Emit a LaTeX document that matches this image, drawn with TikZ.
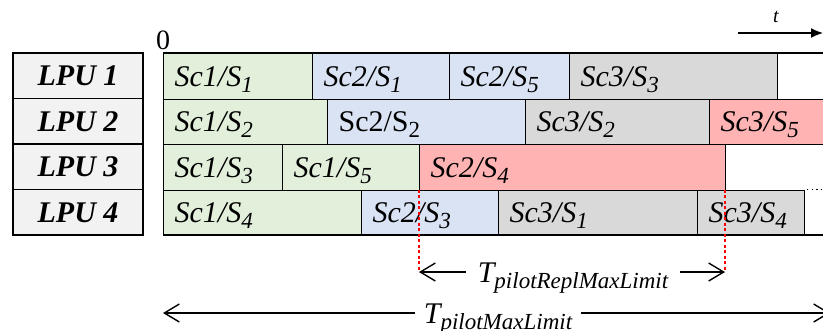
\documentclass[tikz,border=0pt]{standalone}
\usepackage{fontspec}
\setmainfont{Liberation Serif}
\usetikzlibrary{arrows.meta}
\definecolor{cgreen}{HTML}{E2EFDA}
\definecolor{cblue}{HTML}{DAE3F3}
\definecolor{cgrey}{HTML}{D9D9D9}
\definecolor{cpink}{HTML}{FFB3B3}
\definecolor{clpu}{HTML}{F2F2F2}
\newcommand\sbx[1]{\raisebox{-0.2em}{\fontsize{23}{23}\selectfont #1}}
\newcommand\jobnode[6]{%
  \pgfmathsetmacro\jw{#3-#2-22}%
  \node[jobbox, fill=#5, text width=\jw pt, anchor=north west] (#1) at (#2,#4) {#6};%
}
\tikzset{
  jobbox/.style={draw, line width=1.3pt, inner xsep=11pt, inner ysep=0pt,
    minimum height=45.5pt, text height=22pt, text depth=2pt, align=left,
    font=\fontsize{30}{30}\selectfont\itshape},
  lpu/.style={draw, line width=1.3pt, fill=clpu, minimum width=130pt, minimum height=45.5pt,
    inner sep=0pt, text height=22pt, text depth=2pt,
    font=\fontsize{30}{30}\selectfont\bfseries\itshape},
  dimarr/.style={line width=1.4pt, arrows={-Straight Barb[length=15pt,width=18pt,line width=1.4pt]}},
  reddot/.style={red, line width=2.6pt, dash pattern=on 3pt off 2.5pt},
  tlabel/.style={fill=white, inner ysep=2pt, font=\fontsize{30}{30}\selectfont\itshape},
}
\begin{document}
\begin{tikzpicture}[x=1pt,y=-1pt]
\useasboundingbox (0,0) rectangle (823,330);
% LPU labels
\node[lpu] (l1) at (78,75.75) {LPU 1};
\node[lpu] (l2) at (78,121.25) {LPU 2};
\node[lpu] (l3) at (78,166.75) {LPU 3};
\node[lpu] (l4) at (78,212.25) {LPU 4};
% row 1
\jobnode{a1}{163}{312}{53}{cgreen}{Sc1/S\sbx{1}}
\jobnode{a2}{312}{449}{53}{cblue}{Sc2/S\sbx{1}}
\jobnode{a3}{449}{569}{53}{cblue}{Sc2/S\sbx{5}}
\jobnode{a4}{569}{777}{53}{cgrey}{Sc3/S\sbx{3}}
% row 2
\jobnode{b1}{163}{327}{98.5}{cgreen}{Sc1/S\sbx{2}}
\jobnode{b2}{327}{525}{98.5}{cblue}{\upshape Sc2/S\sbx{2}}
\jobnode{b3}{525}{709}{98.5}{cgrey}{Sc3/S\sbx{2}}
\jobnode{b4}{709}{835}{98.5}{cpink}{Sc3/S\sbx{5}}
% row 3
\jobnode{c1}{163}{282}{144}{cgreen}{Sc1/S\sbx{3}}
\jobnode{c2}{282}{419}{144}{cgreen}{Sc1/S\sbx{5}}
\jobnode{c3}{419}{725}{144}{cpink}{Sc2/S\sbx{4}}
% row 4
\jobnode{d1}{163}{361}{189.5}{cgreen}{Sc1/S\sbx{4}}
\jobnode{d2}{361}{498}{189.5}{cblue}{Sc2/S\sbx{3}}
\jobnode{d3}{498}{697}{189.5}{cgrey}{Sc3/S\sbx{1}}
\jobnode{d4}{697}{804}{189.5}{cgrey}{Sc3/S\sbx{4}}
% border lines
\coordinate (topL) at (163,53);
\coordinate (topR) at (823,53);
\coordinate (botL) at (163,235);
\coordinate (botR) at (823,235);
\draw[line width=1.3pt] (topL) -- (topR);
\draw[line width=1.3pt] (botL) -- (botR);
\coordinate (dA) at (807,189.5);
\coordinate (dB) at (823,189.5);
\draw[line width=1pt, dash pattern=on 1.2pt off 3.5pt] (dA) -- (dB);
% zero and t
\node[font=\fontsize{28}{28}\selectfont, inner sep=0pt] (zero) at (163,40) {0};
\coordinate (ta) at (738,33);
\coordinate (tb) at (823,33);
\draw[line width=1.4pt, -{Latex[length=12pt,width=10pt]}] (ta) -- (tb);
\node[font=\fontsize{20}{20}\selectfont\itshape, inner sep=0pt] (tl) at (776,17) {t};
% red dotted markers
\coordinate (r1a) at (419,189.5);
\coordinate (r1b) at (419,272);
\coordinate (r2a) at (725,189.5);
\coordinate (r2b) at (725,272);
\draw[reddot] (r1a) -- (r1b);
\draw[reddot] (r2a) -- (r2b);
% replication limit arrow
\node[tlabel, inner xsep=12pt, anchor=base] (trep) at (573,282) {T\sbx{pilotReplMaxLimit}};
\draw[dimarr] (trep.west |- r1b) -- (r1b);
\draw[dimarr] (trep.east |- r2b) -- (r2b);
% max limit arrow
\coordinate (mL) at (163,313);
\coordinate (mR) at (830,313);
\node[tlabel, inner xsep=9pt, anchor=base] (tmax) at (498,323) {T\sbx{pilotMaxLimit}};
\draw[dimarr] (tmax.west |- mL) -- (mL);
\draw[dimarr] (tmax.east |- mR) -- (mR);
\end{tikzpicture}
\end{document}
